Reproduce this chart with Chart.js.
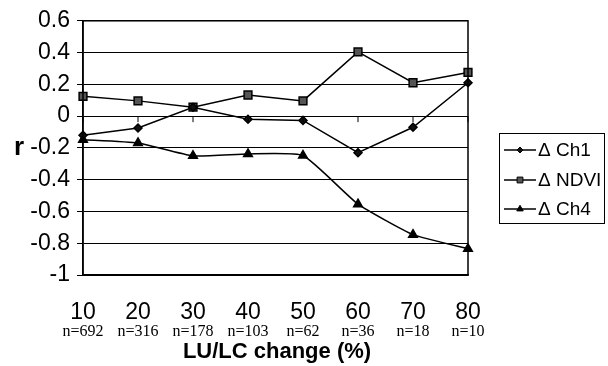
<!DOCTYPE html>
<html>
<head>
<meta charset="utf-8">
<script src="https://cdn.jsdelivr.net/npm/chart.js@4"></script>
<style>
  body { margin: 0; background: #fff; }
  #wrap { width: 608px; height: 366px; position: relative; }
</style>
</head>
<body>
<div id="wrap"><canvas id="rChart"></canvas></div>
<script>
// LU/LC change categories and sample sizes
const changeLabels = ['10', '20', '30', '40', '50', '60', '70', '80'];
const sampleSizes = ['n=692', 'n=316', 'n=178', 'n=103', 'n=62', 'n=36', 'n=18', 'n=10'];

// correlation values
const ch1Values = [-0.12, -0.075, 0.056, -0.02, -0.027, -0.23, -0.07, 0.21];
const ndviValues = [0.125, 0.096, 0.056, 0.133, 0.096, 0.404, 0.21, 0.275];
const ch4Values = [-0.148, -0.169, -0.25, -0.238, -0.248, -0.554, -0.746, -0.835];

const yTicks = [0.6, 0.4, 0.2, 0, -0.2, -0.4, -0.6, -0.8, -1];

// extra bits: frame, zero-line ticks, n= labels, axis titles, legend
const extras = {
    id: 'extras',
    afterDraw(chart) {
        const ctx = chart.ctx;
        const area = chart.chartArea;
        const x = chart.scales.x;
        const y = chart.scales.y;
        ctx.save();

        // plot frame
        ctx.strokeStyle = '#000';
        ctx.lineWidth = 1.5;
        ctx.strokeRect(area.left, area.top, area.right - area.left, area.bottom - area.top);

        // small tick marks hanging from the zero line
        const y0 = y.getPixelForValue(0);
        ctx.lineWidth = 1;
        changeLabels.forEach((lab, i) => {
            const px = x.getPixelForValue(i);
            ctx.beginPath();
            ctx.moveTo(px, y0);
            ctx.lineTo(px, y0 + 6);
            ctx.stroke();
        });

        // sample sizes under the x labels
        ctx.fillStyle = '#000';
        ctx.font = '16px "Liberation Serif", "Times New Roman", serif';
        ctx.textAlign = 'center';
        ctx.textBaseline = 'middle';
        sampleSizes.forEach((s, i) => {
            ctx.fillText(s, x.getPixelForValue(i), 332);
        });

        // x title
        ctx.font = 'bold 22px "Liberation Sans", Arial, sans-serif';
        ctx.fillText('LU/LC change (%)', 277, 352);

        // y title
        ctx.font = 'bold 26px "Liberation Sans", Arial, sans-serif';
        ctx.textAlign = 'left';
        ctx.fillText('r', 14, y.getPixelForValue(-0.2));

        // legend
        ctx.lineWidth = 1;
        ctx.strokeRect(499.5, 133.5, 105, 90);
        const rows = [150, 180, 209];
        chart.data.datasets.forEach((ds, i) => {
            const ry = rows[i];
            ctx.strokeStyle = '#000';
            ctx.lineWidth = 1.5;
            ctx.beginPath();
            ctx.moveTo(504, ry);
            ctx.lineTo(536, ry);
            ctx.stroke();
            ctx.fillStyle = ds.pointBackgroundColor;
            ctx.lineWidth = 1;
            Chart.helpers.drawPoint(ctx, {
                pointStyle: ds.pointStyle,
                radius: ds.pointRadius * 0.75,
                rotation: 0,
                borderWidth: 1
            }, 520, ry);
            ctx.fillStyle = '#000';
            ctx.font = '19px "Liberation Sans", Arial, sans-serif';
            ctx.textAlign = 'left';
            ctx.textBaseline = 'middle';
            ctx.fillText(ds.label, 538, ry + 1);
        });

        ctx.restore();
    }
};

const ctxR = document.getElementById('rChart').getContext('2d');
const rChart = new Chart(ctxR, {
    type: 'line',
    data: {
        labels: changeLabels,
        datasets: [{
            label: '\u0394 Ch1',
            data: ch1Values,
            borderColor: '#000',
            borderWidth: 1.5,
            pointStyle: 'rectRot',
            pointRadius: 4,
            pointBackgroundColor: '#111',
            pointBorderColor: '#000',
            tension: 0
        }, {
            label: '\u0394 NDVI',
            data: ndviValues,
            borderColor: '#000',
            borderWidth: 1.5,
            pointStyle: 'rect',
            pointRadius: 5.5,
            pointBackgroundColor: '#555',
            pointBorderColor: '#000',
            tension: 0
        }, {
            label: '\u0394 Ch4',
            data: ch4Values,
            borderColor: '#000',
            borderWidth: 1.5,
            pointStyle: 'triangle',
            pointRadius: 5,
            pointBackgroundColor: '#000',
            pointBorderColor: '#000',
            tension: 0.15
        }]
    },
    options: {
        responsive: true,
        maintainAspectRatio: false,
        animation: false,
        layout: { padding: { top: 19, right: 140, left: 0, bottom: 0 } },
        plugins: {
            legend: { display: false },
            tooltip: { enabled: false }
        },
        scales: {
            x: {
                offset: false,
                grid: { display: false, drawTicks: false },
                border: { display: true, color: '#000', width: 1.5 },
                ticks: {
                    color: '#000',
                    font: { family: '"Liberation Sans", Arial, sans-serif', size: 23 },
                    padding: 24,
                    maxRotation: 0
                },
                afterFit: s => { s.height = 91; }
            },
            y: {
                min: -1,
                max: 0.6,
                afterBuildTicks: s => { s.ticks = yTicks.map(v => ({ value: v })); },
                grid: { color: '#000', lineWidth: 1, drawTicks: true, tickLength: 6 },
                border: { display: true, color: '#000', width: 1.5 },
                ticks: {
                    color: '#000',
                    font: { family: '"Liberation Sans", Arial, sans-serif', size: 23 },
                    padding: 7,
                    callback: v => String(Math.round(v * 10) / 10)
                },
                afterFit: s => { s.width = 83; }
            }
        }
    },
    plugins: [extras]
});
</script>
</body>
</html>
